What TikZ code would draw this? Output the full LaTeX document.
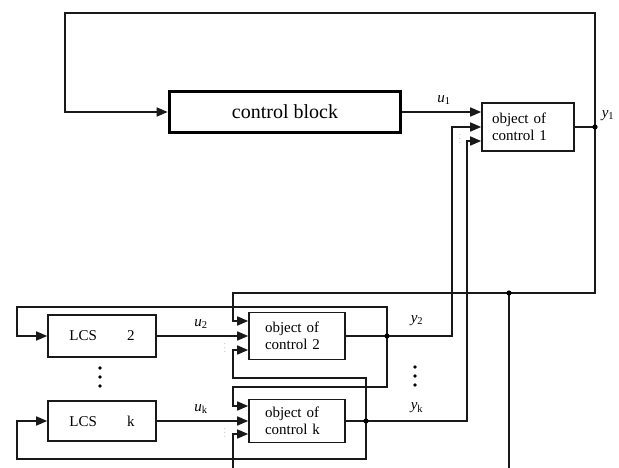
\documentclass[tikz,border=0pt]{standalone}
\usepackage{fontspec}
\setmainfont{Liberation Serif}
\usetikzlibrary{arrows.meta}
\begin{document}
\begin{tikzpicture}[x=1pt,y=-1pt,
  line/.style={line width=1.6pt, draw=black!90},
  arr/.style={line, -{Triangle[length=11pt,width=9pt]}},
  objbox/.style={draw=black!90, line width=1.6pt, align=left, text width=64pt, inner xsep=16pt, inner ysep=0pt, font=\fontsize{15}{17}\selectfont},
  lcsbox/.style={draw=black!90, line width=1.6pt, minimum width=108pt, inner sep=0pt, font=\fontsize{15}{17}\selectfont},
  lab/.style={inner sep=0pt, font=\fontsize{15}{17}\selectfont},
  smalldots/.style={inner sep=0pt, font=\tiny}
]
\useasboundingbox (0,0) rectangle (619,468);

% blocks
\node[draw=black, line width=3.6pt, minimum width=231pt, minimum height=41pt, inner sep=0pt, font=\fontsize{20}{24}\selectfont] (cb) at (285,112) {control block};
\node[objbox, text width=72pt, inner xsep=10pt, minimum height=48pt] (o1) at (528,127) {object of\\control 1};
\node[objbox, minimum height=47pt] (o2) at (297,336) {object of\\control 2};
\node[objbox, minimum height=43pt] (ok) at (297,421) {object of\\control k};
\node[lcsbox, minimum height=42pt] (l2) at (102,336) {LCS\hspace{30pt}2};
\node[lcsbox, minimum height=40pt] (lk) at (102,421) {LCS\hspace{30pt}k};

% junctions and free ends
\coordinate (j1) at (595,127);
\coordinate (j2) at (509,293);
\coordinate (j3) at (387,336);
\coordinate (j4) at (366,421);
\coordinate (e1) at (509,468);
\coordinate (e2) at (233,468);

% connectors
\draw[arr] (j1) -- (595,13) -- (65,13) |- (cb.west);
\draw[arr] (cb.east) -- ([yshift=15pt]o1.west);
\draw[line] (o1.east) -- (j1);
\draw[arr] (j1) -- (595,293) -- (233,293) |- ([yshift=15pt]o2.west);
\draw[line] (j2) -- (e1);
\draw[arr] (l2.east) -- (o2.west);
\draw[line] (o2.east) -- (j3);
\draw[arr] (j3) -- (452,336) |- (o1.west);
\draw[arr] (j3) -- (387,307) -- (17,307) |- (l2.west);
\draw[arr] (j3) -- (387,387) -- (233,387) |- ([yshift=15pt]ok.west);
\draw[arr] (lk.east) -- (ok.west);
\draw[line] (ok.east) -- (j4);
\draw[arr] (j4) -- (467,421) |- ([yshift=-14pt]o1.west);
\draw[arr] (j4) -- (366,378) -- (233,378) |- ([yshift=-14pt]o2.west);
\draw[arr] (j4) -- (366,459) -- (17,459) |- (lk.west);
\draw[arr] (e2) |- ([yshift=-13pt]ok.west);

% junction dots
\foreach \j in {j1,j2,j3,j4} \fill (\j) circle (2.6pt);

% labels
\node[lab] (lu1) at (444,100) {\textit{u}\textsubscript{1}};
\node[lab] (ly1) at (608,116) {\textit{y}\textsubscript{1}};
\node[lab] (lu2) at (201,324) {\textit{u}\textsubscript{2}};
\node[lab] (luk) at (201,409) {\textit{u}\textsubscript{k}};
\node[lab] (ly2) at (417,321) {\textit{y}\textsubscript{2}};
\node[lab] (lyk) at (417,408) {\textit{y}\textsubscript{k}};

% small ellipses at inputs
\node[smalldots] (v1) at (460,136) {$\vdots$};
\node[smalldots] (v2) at (225,345) {$\vdots$};
\node[smalldots] (v3) at (225,430) {$\vdots$};

% large ellipses
\foreach \yy in {368,377,386} \fill (100,\yy) circle (1.8pt);
\foreach \yy in {367,376,385} \fill (415,\yy) circle (1.8pt);
\end{tikzpicture}
\end{document}
